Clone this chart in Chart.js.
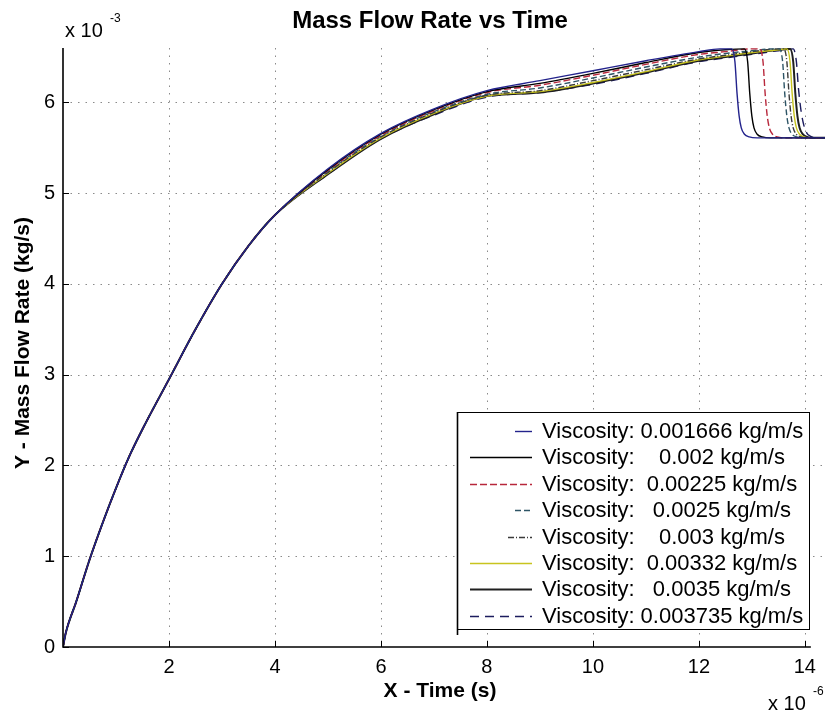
<!DOCTYPE html>
<html><head><meta charset="utf-8">
<script src="https://cdn.jsdelivr.net/npm/chart.js@4.4.0/dist/chart.umd.min.js"></script>
<style>html,body{margin:0;padding:0;background:#fff;}#wrap{width:825px;height:713px;position:relative;}</style>
</head><body><div id="wrap"><canvas id="c" width="825" height="713"></canvas></div>
<script>
// ---- data (time in 1e-6 s, flow in 1e-3 kg/s) ----
const riseTime = [0, 0.05, 0.25, 0.5, 0.75, 1, 1.25, 1.5, 2, 2.5, 3, 3.5, 4];
const riseFlow = [0, 0.15, 0.5, 0.96, 1.37, 1.75, 2.1, 2.4, 2.95, 3.5, 4.0, 4.42, 4.76];

const tailTime0 = [5, 6, 7, 8, 9, 10, 11, 12, 12.4, 12.62, 12.68, 12.72, 12.76, 12.8, 12.86, 12.95, 13.1, 14.4];
const tailFlow0 = [5.27, 5.66, 5.93, 6.13, 6.24, 6.35, 6.46, 6.56, 6.59, 6.59, 6.45, 6.1, 5.85, 5.72, 5.65, 5.62, 5.61, 5.61];
const tailTime1 = [5, 6, 7, 8, 9, 10, 11, 12, 12.5, 12.86, 12.92, 12.96, 13.0, 13.04, 13.1, 13.2, 13.35, 14.4];
const tailFlow1 = [5.26, 5.65, 5.92, 6.12, 6.21, 6.32, 6.44, 6.55, 6.58, 6.59, 6.45, 6.1, 5.85, 5.72, 5.65, 5.62, 5.61, 5.61];
const tailTime2 = [5, 6, 7, 8, 9, 10, 11, 12, 12.5, 13, 13.15, 13.21, 13.25, 13.29, 13.33, 13.39, 13.48, 13.6, 14.4];
const tailFlow2 = [5.25, 5.64, 5.91, 6.11, 6.19, 6.30, 6.42, 6.53, 6.56, 6.59, 6.59, 6.45, 6.1, 5.85, 5.72, 5.65, 5.62, 5.61, 5.61];
const tailTime3 = [5, 6, 7, 8, 9, 10, 11, 12, 12.5, 13, 13.4, 13.52, 13.58, 13.62, 13.66, 13.7, 13.76, 13.85, 14.0, 14.4];
const tailFlow3 = [5.24, 5.63, 5.9, 6.09, 6.16, 6.27, 6.39, 6.50, 6.54, 6.57, 6.59, 6.59, 6.45, 6.1, 5.85, 5.72, 5.65, 5.62, 5.61, 5.61];
const tailTime4 = [5, 6, 7, 8, 9, 10, 11, 12, 12.5, 13, 13.5, 13.6, 13.66, 13.7, 13.74, 13.78, 13.84, 13.93, 14.05, 14.4];
const tailFlow4 = [5.23, 5.62, 5.89, 6.08, 6.13, 6.24, 6.36, 6.48, 6.52, 6.56, 6.59, 6.59, 6.45, 6.1, 5.85, 5.72, 5.65, 5.62, 5.61, 5.61];
const tailTime5 = [5, 6, 7, 8, 9, 10, 11, 12, 12.5, 13, 13.5, 13.66, 13.72, 13.76, 13.8, 13.84, 13.9, 13.98, 14.1, 14.4];
const tailFlow5 = [5.22, 5.61, 5.88, 6.07, 6.12, 6.22, 6.34, 6.47, 6.51, 6.55, 6.58, 6.59, 6.45, 6.1, 5.85, 5.72, 5.65, 5.62, 5.61, 5.61];
const tailTime6 = [5, 6, 7, 8, 9, 10, 11, 12, 12.5, 13, 13.5, 13.72, 13.78, 13.82, 13.86, 13.9, 13.96, 14.04, 14.15, 14.4];
const tailFlow6 = [5.21, 5.60, 5.87, 6.07, 6.11, 6.21, 6.33, 6.46, 6.50, 6.54, 6.58, 6.59, 6.45, 6.1, 5.85, 5.72, 5.65, 5.62, 5.61, 5.61];
const tailTime7 = [5, 6, 7, 8, 9, 10, 11, 12, 12.5, 13, 13.5, 13.78, 13.84, 13.88, 13.93, 13.98, 14.04, 14.1, 14.2, 14.4];
const tailFlow7 = [5.21, 5.60, 5.86, 6.06, 6.11, 6.20, 6.32, 6.45, 6.49, 6.53, 6.57, 6.59, 6.45, 6.15, 5.9, 5.75, 5.66, 5.63, 5.61, 5.61];

const seriesLabels = [
  'Viscosity: 0.001666 kg/m/s',
  'Viscosity:    0.002 kg/m/s',
  'Viscosity:  0.00225 kg/m/s',
  'Viscosity:   0.0025 kg/m/s',
  'Viscosity:    0.003 kg/m/s',
  'Viscosity:  0.00332 kg/m/s',
  'Viscosity:   0.0035 kg/m/s',
  'Viscosity: 0.003735 kg/m/s'
];
const xTickValues = [2, 4, 6, 8, 10, 12, 14];
const yTickValues = [0, 1, 2, 3, 4, 5, 6];

// ---- styles ----
const tailTimes = [tailTime0, tailTime1, tailTime2, tailTime3, tailTime4, tailTime5, tailTime6, tailTime7];
const tailFlows = [tailFlow0, tailFlow1, tailFlow2, tailFlow3, tailFlow4, tailFlow5, tailFlow6, tailFlow7];
const styles = [
  {color: '#23238c', dash: [], width: 1.4, legFrom: 515},
  {color: '#000000', dash: [], width: 1.4, legFrom: 470},
  {color: '#b8283c', dash: [7, 3], width: 1.4, legFrom: 470},
  {color: '#2e5566', dash: [6, 3], width: 1.4, legFrom: 515},
  {color: '#3a3a3a', dash: [6, 2, 1, 2], width: 1.4, legFrom: 508},
  {color: '#c8c41e', dash: [], width: 1.4, legFrom: 470},
  {color: '#202020', dash: [], width: 2, legFrom: 470},
  {color: '#1c1c5e', dash: [9, 6], width: 1.4, legFrom: 470}
];

const datasets = seriesLabels.map((lab, i) => ({
  label: lab,
  data: riseTime.map((t, k) => ({x: t, y: riseFlow[k]}))
        .concat(tailTimes[i].map((t, k) => ({x: t, y: tailFlows[i][k]}))),
  borderColor: styles[i].color,
  borderDash: styles[i].dash,
  borderWidth: styles[i].width,
  pointRadius: 0,
  fill: false,
  tension: 0.15,
  cubicInterpolationMode: 'monotone'
}));

const FONT = '"Liberation Sans", Arial, Helvetica, sans-serif';

const decor = {
  id: 'decor',
  beforeDatasetsDraw(chart) {
    const {ctx, chartArea: {left, right, top, bottom}, scales: {x, y}} = chart;
    ctx.save();
    ctx.strokeStyle = '#8a8a8a';
    ctx.lineWidth = 1;
    ctx.setLineDash([1.5, 6]);
    xTickValues.forEach(v => {
      const px = Math.round(x.getPixelForValue(v)) + 0.5;
      ctx.beginPath(); ctx.moveTo(px, top); ctx.lineTo(px, bottom); ctx.stroke();
    });
    yTickValues.forEach(v => {
      if (v === 0) return;
      const py = Math.round(y.getPixelForValue(v)) + 0.5;
      ctx.beginPath(); ctx.moveTo(left, py); ctx.lineTo(right, py); ctx.stroke();
    });
    ctx.restore();
  },
  afterDraw(chart) {
    const {ctx, chartArea: {left, right, top, bottom}, scales: {x, y}} = chart;
    ctx.save();
    // axes
    ctx.setLineDash([]);
    ctx.strokeStyle = '#000';
    ctx.lineWidth = 1.6;
    ctx.beginPath(); ctx.moveTo(left, top); ctx.lineTo(left, bottom); ctx.lineTo(x.getPixelForValue(14) + 6, bottom); ctx.stroke();
    ctx.lineWidth = 1;
    xTickValues.forEach(v => {
      const px = Math.round(x.getPixelForValue(v)) + 0.5;
      ctx.beginPath(); ctx.moveTo(px, bottom); ctx.lineTo(px, bottom - 6); ctx.stroke();
    });
    yTickValues.forEach(v => {
      const py = Math.round(y.getPixelForValue(v)) + 0.5;
      ctx.beginPath(); ctx.moveTo(left, py); ctx.lineTo(left + 6, py); ctx.stroke();
    });
    // legend
    const lx0 = 457, lx1 = 809, ly0 = 412, ly1 = 629;
    ctx.fillStyle = '#fff';
    ctx.fillRect(lx0, ly0, lx1 - lx0, ly1 - ly0);
    ctx.strokeStyle = '#000';
    ctx.lineWidth = 1;
    ctx.strokeRect(lx0 + 0.5, ly0 + 0.5, lx1 - lx0, ly1 - ly0);
    ctx.lineWidth = 1.6;
    ctx.beginPath(); ctx.moveTo(lx0 + 0.5, ly0); ctx.lineTo(lx0 + 0.5, ly1 + 6); ctx.stroke();
    ctx.font = '22px ' + FONT;
    ctx.textBaseline = 'middle';
    ctx.textAlign = 'left';
    seriesLabels.forEach((lab, i) => {
      const cy = 431 + i * 26.4;
      const st = styles[i];
      ctx.strokeStyle = st.color;
      ctx.lineWidth = st.width;
      ctx.setLineDash(st.dash);
      ctx.beginPath(); ctx.moveTo(st.legFrom, Math.round(cy) + 0.5); ctx.lineTo(532, Math.round(cy) + 0.5); ctx.stroke();
      ctx.setLineDash([]);
      ctx.fillStyle = '#000';
      ctx.fillText(lab, 542, cy + 1);
    });
    // title
    ctx.fillStyle = '#000';
    ctx.textAlign = 'center';
    ctx.textBaseline = 'alphabetic';
    ctx.font = 'bold 24px ' + FONT;
    ctx.fillText('Mass Flow Rate vs Time', 430, 28);
    // axis titles
    ctx.font = 'bold 21px ' + FONT;
    ctx.fillText('X - Time (s)', 440, 697);
    ctx.save();
    ctx.translate(29, 343);
    ctx.rotate(-Math.PI / 2);
    ctx.fillText('Y - Mass Flow Rate (kg/s)', 0, 0);
    ctx.restore();
    // exponents
    ctx.textAlign = 'left';
    ctx.font = '20px ' + FONT;
    ctx.fillText('x 10', 65, 37);
    ctx.font = '12px ' + FONT;
    ctx.fillText('-3', 110, 22);
    ctx.font = '20px ' + FONT;
    ctx.fillText('x 10', 768, 710);
    ctx.font = '12px ' + FONT;
    ctx.fillText('-6', 813, 695);
    ctx.restore();
  }
};

new Chart(document.getElementById('c'), {
  type: 'line',
  data: {datasets},
  options: {
    responsive: false,
    animation: false,
    devicePixelRatio: 1,
    layout: {padding: {top: 48, right: 0, bottom: 0, left: 0}},
    plugins: {legend: {display: false}, title: {display: false}, tooltip: {enabled: false}},
    scales: {
      x: {
        type: 'linear', min: 0, max: 14.38,
        afterBuildTicks: s => { s.ticks = xTickValues.map(v => ({value: v})); },
        afterFit: s => { s.height = 66; },
        grid: {display: false, drawTicks: false},
        border: {display: false},
        ticks: {color: '#000', font: {family: FONT, size: 20}, padding: 8, maxRotation: 0, autoSkip: false}
      },
      y: {
        type: 'linear', min: 0, max: 6.6,
        afterBuildTicks: s => { s.ticks = yTickValues.map(v => ({value: v})); },
        afterFit: s => { s.width = 63; },
        grid: {display: false, drawTicks: false},
        border: {display: false},
        ticks: {color: '#000', font: {family: FONT, size: 20}, padding: 8, autoSkip: false}
      }
    }
  },
  plugins: [decor]
});
</script></body></html>
